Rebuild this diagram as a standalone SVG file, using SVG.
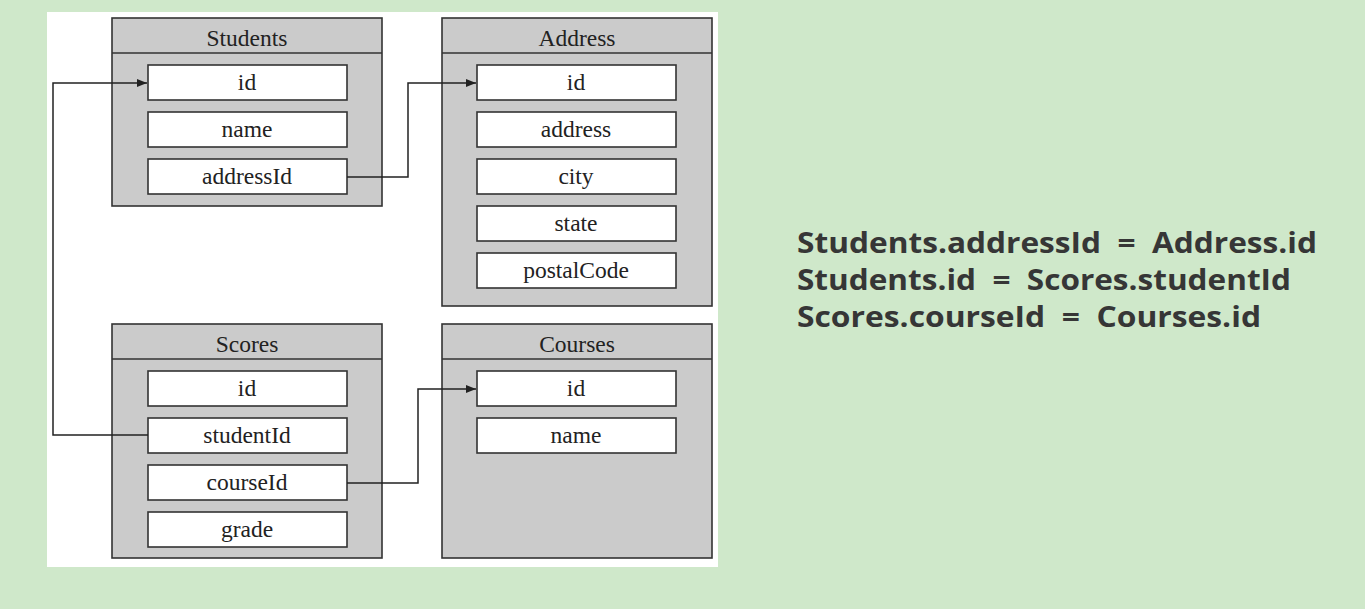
<svg xmlns="http://www.w3.org/2000/svg" width="1365" height="609" viewBox="0 0 1365 609">
<defs>
<style>
.tbl{fill:#cbcbcb;stroke:#333;stroke-width:1.6}
.hdr{stroke:#333;stroke-width:1.6}
.fld{fill:#fff;stroke:#333;stroke-width:1.6}
.t{font-family:"Liberation Serif",serif;font-size:23.5px;fill:#222;text-anchor:middle}
.con{fill:none;stroke:#222;stroke-width:1.5}
.eq{font-family:"Open Sans","Noto Sans",sans-serif;font-weight:bold;font-size:29px;fill:#363636}
</style>
<marker id="arr" viewBox="0 0 10 10" refX="10" refY="5" markerWidth="10" markerHeight="10" markerUnits="userSpaceOnUse" orient="auto">
<path d="M0,1 L10,5 L0,9 Z" fill="#222"/>
</marker>
</defs>
<rect x="0" y="0" width="1365" height="609" fill="#cfe8ca"/>
<rect x="47" y="12" width="671" height="555" fill="#fff"/>

<g id="students">
<rect class="tbl" x="112" y="18" width="270" height="188"/>
<line class="hdr" x1="112" y1="53" x2="382" y2="53"/>
<text class="t" x="247" y="46">Students</text>
<rect class="fld" x="148" y="65" width="199" height="35"/>
<text class="t" x="247" y="90">id</text>
<rect class="fld" x="148" y="112" width="199" height="35"/>
<text class="t" x="247" y="137">name</text>
<rect class="fld" x="148" y="159" width="199" height="35"/>
<text class="t" x="247" y="184">addressId</text>
</g>

<g id="address">
<rect class="tbl" x="442" y="18" width="270" height="288"/>
<line class="hdr" x1="442" y1="53" x2="712" y2="53"/>
<text class="t" x="577" y="46">Address</text>
<rect class="fld" x="477" y="65" width="199" height="35"/>
<text class="t" x="576" y="90">id</text>
<rect class="fld" x="477" y="112" width="199" height="35"/>
<text class="t" x="576" y="137">address</text>
<rect class="fld" x="477" y="159" width="199" height="35"/>
<text class="t" x="576" y="184">city</text>
<rect class="fld" x="477" y="206" width="199" height="35"/>
<text class="t" x="576" y="231">state</text>
<rect class="fld" x="477" y="253" width="199" height="35"/>
<text class="t" x="576" y="278">postalCode</text>
</g>

<g id="scores">
<rect class="tbl" x="112" y="324" width="270" height="234"/>
<line class="hdr" x1="112" y1="359" x2="382" y2="359"/>
<text class="t" x="247" y="352">Scores</text>
<rect class="fld" x="148" y="371" width="199" height="35"/>
<text class="t" x="247" y="396">id</text>
<rect class="fld" x="148" y="418" width="199" height="35"/>
<text class="t" x="247" y="443">studentId</text>
<rect class="fld" x="148" y="465" width="199" height="35"/>
<text class="t" x="247" y="490">courseId</text>
<rect class="fld" x="148" y="512" width="199" height="35"/>
<text class="t" x="247" y="537">grade</text>
</g>

<g id="courses">
<rect class="tbl" x="442" y="324" width="270" height="234"/>
<line class="hdr" x1="442" y1="359" x2="712" y2="359"/>
<text class="t" x="577" y="352">Courses</text>
<rect class="fld" x="477" y="371" width="199" height="35"/>
<text class="t" x="576" y="396">id</text>
<rect class="fld" x="477" y="418" width="199" height="35"/>
<text class="t" x="576" y="443">name</text>
</g>

<g id="connectors">
<polyline class="con" points="347,177 408,177 408,83 476,83" marker-end="url(#arr)"/>
<polyline class="con" points="148,435 53,435 53,83 147,83" marker-end="url(#arr)"/>
<polyline class="con" points="347,483 418,483 418,389 476,389" marker-end="url(#arr)"/>
</g>

<g id="equations">
<text class="eq" x="797" y="253" textLength="520" lengthAdjust="spacingAndGlyphs" xml:space="preserve">Students.addressId  =  Address.id</text>
<text class="eq" x="797" y="290" textLength="494" lengthAdjust="spacingAndGlyphs" xml:space="preserve">Students.id  =  Scores.studentId</text>
<text class="eq" x="797" y="327" textLength="464" lengthAdjust="spacingAndGlyphs" xml:space="preserve">Scores.courseId  =  Courses.id</text>
</g>
</svg>
